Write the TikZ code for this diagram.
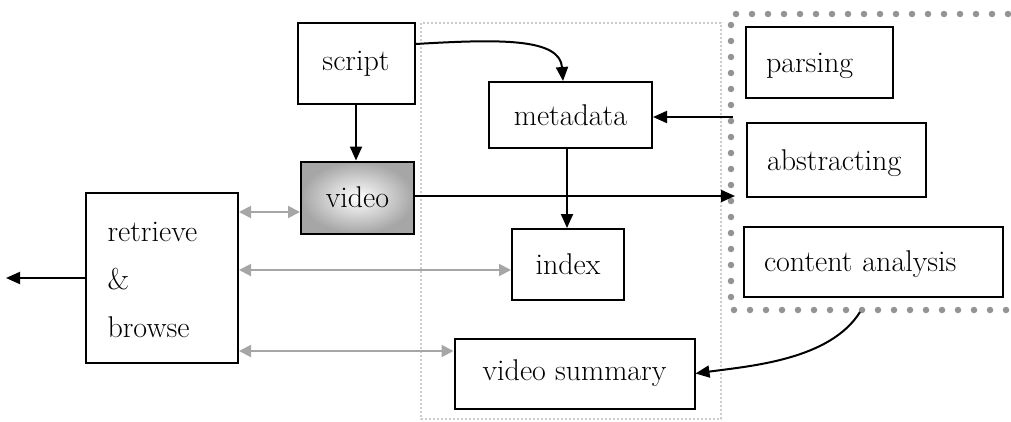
\documentclass[tikz,border=0pt]{standalone}
\usetikzlibrary{arrows.meta}
\begin{document}
\begin{tikzpicture}[x=1pt,y=-1pt,
  lbl/.style={font=\fontsize{30}{36}\selectfont},
  box/.style={draw=black,line width=2pt,fill=white,inner sep=0pt,lbl},
  lbox/.style={box,inner xsep=20pt,align=left,text depth=0pt},
  link/.style={line width=2pt,-{Triangle[length=14pt,width=12pt]}},
  glink/.style={draw=gray!70,line width=2pt,{Triangle[length=12pt,width=12pt]}-{Triangle[length=12pt,width=12pt]}},
  region/.style={draw=gray!40,line width=2pt,dash pattern=on 2pt off 2pt},
  dotrow/.style={draw=gray!85,line width=6.5pt,line cap=round,dash pattern=on 0pt off 16pt}
]
\useasboundingbox (0,0) rectangle (1011,421);

% storage region and the processing group border
\draw[region] (421,23) rectangle (721,419);
\draw[dotrow] (1040,14) -- (731,14) -- (731,310) -- (1040,310);

% boxes
\node[box,minimum width=117pt,minimum height=81pt] (script) at (356,63.5) {script};
\node[box,minimum width=163pt,minimum height=66pt] (meta) at (570.5,115) {metadata};
\node[box,minimum width=113pt,minimum height=72pt,inner color=white,outer color=gray!70] (video) at (357.5,197.5) {video};
\node[box,minimum width=112pt,minimum height=71pt] (index) at (568,264.5) {index};
\node[box,minimum width=240pt,minimum height=70pt] (summary) at (574.5,373.5) {video summary};
\node[box,minimum width=152pt,minimum height=170pt] (rb) at (162,278) {};
\node[lbl,anchor=west,align=left] at (104,280) {retrieve\\[12pt]\&\\[12pt]browse};

\node[lbox,minimum width=147pt,minimum height=71pt,text width=107pt] (parse) at (819.5,62.5) {parsing};
\node[lbox,minimum width=179pt,minimum height=74pt,text width=139pt] (abs) at (836.5,160) {abstracting};
\node[lbox,minimum width=259pt,minimum height=70pt,text width=219pt] (ca) at (873.5,261.5) {content analysis};

\coordinate (grpL) at (733,117);
\coordinate (grpA) at (735,196);
\coordinate (grpB) at (860,312);
\coordinate (out) at (6,278);

% connectors
\draw[link] (script.south -| 356,0) -- (video.north -| 356,0);
\draw[link] (script.east |- 0,44) .. controls (500,39) and (560,38) .. (meta.north -| 563,0);
\draw[link] (grpL) -- (meta.east |- grpL);
\draw[link] (meta.south -| 567,0) -- (index.north -| 567,0);
\draw[link] (video.east |- grpA) -- (grpA);
\draw[link] (grpB) .. controls (830,360) and (750,366) .. (summary.east);
\draw[link] (rb.west) -- (out);

\draw[glink] (rb.east |- 0,212) -- (video.west |- 0,212);
\draw[glink] (rb.east |- 0,270) -- (index.west |- 0,270);
\draw[glink] (rb.east |- 0,351) -- (summary.west |- 0,351);
\end{tikzpicture}
\end{document}
